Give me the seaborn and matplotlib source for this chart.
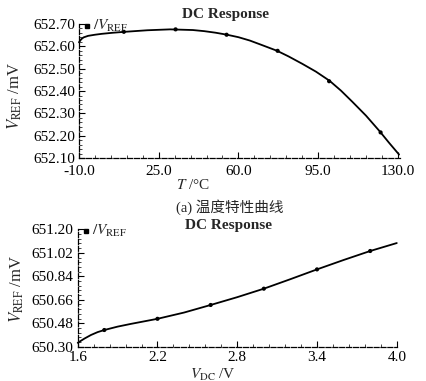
#!/usr/bin/env python3
"""DC response of the reference voltage: temperature sweep and supply sweep."""

import matplotlib
matplotlib.use("Agg")
import matplotlib.pyplot as plt
import pandas as pd
import seaborn as sns
from matplotlib.ticker import AutoMinorLocator

# (a) temperature sweep, curve
temp_c = [-10, -9, -8, -6, -3, 0, 5, 10, 20, 30, 40, 45, 50, 55, 60, 65, 70, 77, 82, 88,
          94, 100, 105, 110, 116, 122, 126, 130.5]
vref_temp = [652.618, 652.632, 652.640, 652.647, 652.652, 652.656, 652.661, 652.665, 652.672,
             652.676, 652.673, 652.668, 652.661, 652.652, 652.641, 652.626, 652.607, 652.580,
             652.555, 652.522, 652.487, 652.446, 652.402, 652.352, 652.290, 652.220, 652.170,
             652.116]
temp_marks = [9.7, 32.4, 54.8, 77.2, 99.8, 122.4]
vref_temp_marks = [652.665, 652.676, 652.652, 652.580, 652.444, 652.215]
temp_ticks = [-10.0, 25.0, 60.0, 95.0, 130.0]
temp_yticks = [652.10, 652.20, 652.30, 652.40, 652.50, 652.60, 652.70]

# (b) supply sweep
vdc = [1.6, 1.65, 1.7, 1.75, 1.8, 1.9, 2.0, 2.2, 2.4, 2.6, 2.8, 3.0, 3.2, 3.4, 3.6, 3.8, 4.0]
vref_vdc = [650.330, 650.362, 650.390, 650.412, 650.428, 650.454, 650.475, 650.514, 650.562,
            650.620, 650.680, 650.745, 650.818, 650.893, 650.965, 651.034, 651.095]
vdc_marks = [1.8, 2.2, 2.6, 3.0, 3.4, 3.8]
vref_vdc_marks = [650.428, 650.514, 650.620, 650.745, 650.893, 651.034]
vdc_ticks = [1.6, 2.2, 2.8, 3.4, 4.0]
vdc_yticks = [650.30, 650.48, 650.66, 650.84, 651.02, 651.20]

sns.set_theme(style="white")
plt.rcParams["font.family"] = ["Liberation Serif", "Noto Sans CJK SC", "DejaVu Sans"]
plt.rcParams["mathtext.fontset"] = "stix"

fig = plt.figure(figsize=(4.26, 3.81), dpi=100)
ax1 = fig.add_axes([0.1854, 0.585, 0.754, 0.352])
ax2 = fig.add_axes([0.1824, 0.090, 0.749, 0.308])


def style_axes(ax, xticks, yticks, xfmt, yfmt, xpad):
    for side in ("top", "right"):
        ax.spines[side].set_visible(False)
    for side in ("left", "bottom"):
        ax.spines[side].set_linewidth(0.9)
        ax.spines[side].set_linestyle((0, (4, 1.5)))
        ax.spines[side].set_color("black")
    ax.set_xticks(xticks)
    ax.set_yticks(yticks)
    ax.set_xticklabels([xfmt.format(v) for v in xticks])
    ax.set_yticklabels([yfmt.format(v) for v in yticks])
    ax.xaxis.set_minor_locator(AutoMinorLocator(5))
    ax.yaxis.set_minor_locator(AutoMinorLocator(5))
    ax.tick_params(which="major", direction="in", length=4, width=0.8, labelsize=11,
                   bottom=True, left=True, colors="black")
    ax.tick_params(axis="x", which="major", pad=xpad)
    ax.tick_params(axis="y", which="major", pad=3)
    ax.tick_params(which="minor", direction="in", length=2, width=0.6, bottom=True, left=True)
    ax.set_xlabel("")
    ax.set_ylabel("")
    ax.set_facecolor("white")


df1 = pd.DataFrame({"T": temp_c, "V": vref_temp})
df1m = pd.DataFrame({"T": temp_marks, "V": vref_temp_marks})
sns.lineplot(data=df1, x="T", y="V", ax=ax1, color="black", linewidth=1.3, clip_on=False)
sns.scatterplot(data=df1m, x="T", y="V", ax=ax1, color="black", s=9, edgecolor="none", clip_on=False)
ax1.set_xlim(-10, 131)
ax1.set_ylim(652.10, 652.70)
style_axes(ax1, temp_ticks, temp_yticks, "{:.1f}", "{:.2f}", 5)

df2 = pd.DataFrame({"Vdc": vdc, "V": vref_vdc})
df2m = pd.DataFrame({"Vdc": vdc_marks, "V": vref_vdc_marks})
sns.lineplot(data=df2, x="Vdc", y="V", ax=ax2, color="black", linewidth=1.3, clip_on=False)
sns.scatterplot(data=df2m, x="Vdc", y="V", ax=ax2, color="black", s=9, edgecolor="none", clip_on=False)
ax2.set_xlim(1.6, 4.0)
ax2.set_ylim(650.30, 651.20)
style_axes(ax2, vdc_ticks, vdc_yticks, "{:.1f}", "{:.2f}", 3)

# legend-like label at the top left corner of each axes
for ax in (ax1, ax2):
    ax.plot([0.025], [0.985], marker="s", markersize=2.5, color="black",
            transform=ax.transAxes, clip_on=False)
    ax.text(0.045, 0.985, r"$/V_{\mathrm{REF}}$", transform=ax.transAxes,
            fontsize=11, va="center", ha="left")

fig.text(0.53, 0.963, "DC Response", ha="center", va="center", fontsize=11, fontweight="bold")
fig.text(0.537, 0.407, "DC Response", ha="center", va="center", fontsize=11, fontweight="bold")

fig.text(0.452, 0.514, r"$T$ /°C", ha="center", va="center", fontsize=11)
fig.text(0.50, -0.004, r"$V_{\mathrm{DC}}$ /V", ha="center", va="bottom", fontsize=11)

fig.text(0.035, 0.748, r"$V_{\mathrm{REF}}$ /mV", ha="center", va="center", rotation=90, fontsize=12)
fig.text(0.040, 0.241, r"$V_{\mathrm{REF}}$ /mV", ha="center", va="center", rotation=90, fontsize=12)

fig.text(0.54, 0.457, "(a) 温度特性曲线", ha="center", va="center", fontsize=10.5)

fig.savefig("out.png", dpi=100)
